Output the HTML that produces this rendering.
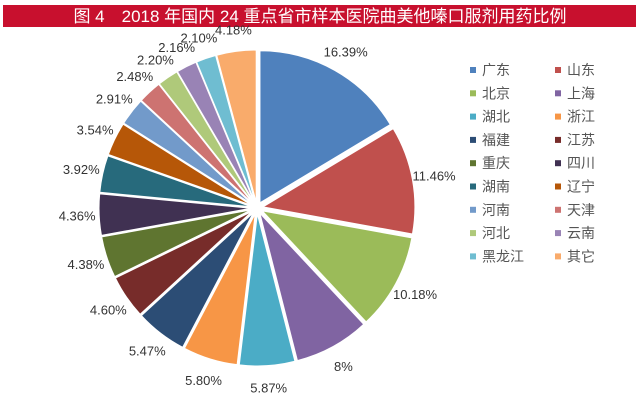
<!DOCTYPE html>
<html><head><meta charset="utf-8"><style>
body{margin:0;background:#fff;}
svg{display:block;font-family:"Liberation Sans","Noto Sans CJK SC",sans-serif;}
</style></head><body>
<svg width="640" height="401" viewBox="0 0 640 401">
<rect x="3" y="5" width="633" height="22" fill="#c8102e"/>
<text x="320" y="22" text-anchor="middle" fill="#fff" font-size="17">图 4　2018 年国内 24 重点省市样本医院曲美他嗪口服剂用药比例</text>
<g id="slices"></g><g id="labels"></g><g id="legend"></g>
</svg>
<script>
const categories=["广东","山东","北京","上海","湖北","浙江","福建","江苏","重庆","四川","湖南","辽宁","河南","天津","河北","云南","黑龙江","其它"];
const values=[16.39,11.46,10.18,8,5.87,5.80,5.47,4.60,4.38,4.36,3.92,3.54,2.91,2.48,2.20,2.16,2.10,4.18];
const valueLabels=["16.39%","11.46%","10.18%","8%","5.87%","5.80%","5.47%","4.60%","4.38%","4.36%","3.92%","3.54%","2.91%","2.48%","2.20%","2.16%","2.10%","4.18%"];
const colors=["#4F81BD","#C0504D","#9BBB59","#8064A2","#4BACC6","#F79646","#2C4D75","#772C2A","#5F7530","#403152","#276A7C","#B65708","#729ACA","#CD7371","#AFC97A","#9983B5","#6FBDD1","#F9AB6B"];
const NS="http://www.w3.org/2000/svg";
const cx=257,cy=208,R=152,EX=6,LR=180;
const total=values.reduce((a,b)=>a+b,0);
function pt(a,r,ox,oy){return [ox+r*Math.sin(a),oy-r*Math.cos(a)];}
let acc=0;
const gS=document.getElementById('slices'),gL=document.getElementById('labels'),gG=document.getElementById('legend');
values.forEach((v,i)=>{
  const a0=acc/total*2*Math.PI;acc+=v;const a1=acc/total*2*Math.PI;const am=(a0+a1)/2;
  const [ox,oy]=pt(am,EX,cx,cy);
  const p0=pt(a0,R,ox,oy),p1=pt(a1,R,ox,oy);
  const large=(a1-a0)>Math.PI?1:0;
  const p=document.createElementNS(NS,'path');
  p.setAttribute('d',`M${ox},${oy}L${p0[0]},${p0[1]}A${R},${R} 0 ${large} 1 ${p1[0]},${p1[1]}Z`);
  p.setAttribute('fill',colors[i]);p.setAttribute('stroke','#fff');p.setAttribute('stroke-width','1');
  
  
  gS.appendChild(p);
  const lp=pt(am,LR,cx,cy);
  const t=document.createElementNS(NS,'text');
  t.setAttribute('x',lp[0]);t.setAttribute('y',lp[1]+5);t.setAttribute('text-anchor','middle');
  t.setAttribute('font-size','13');t.setAttribute('fill','#333');
  t.textContent=valueLabels[i];
  
  
  gL.appendChild(t);
  const col=i%2,row=Math.floor(i/2);
  const x=473+col*85,y=70+row*23.3;
  const g=document.createElementNS(NS,'g');
  
  
  const r=document.createElementNS(NS,'rect');
  r.setAttribute('x',x-3);r.setAttribute('y',y-3);r.setAttribute('width',6);r.setAttribute('height',6);r.setAttribute('fill',colors[i]);
  g.appendChild(r);
  const lt=document.createElementNS(NS,'text');
  lt.setAttribute('x',x+9);lt.setAttribute('y',y+5);lt.setAttribute('font-size','14');lt.setAttribute('fill','#555');
  lt.textContent=categories[i];
  g.appendChild(lt);
  gG.appendChild(g);
});
</script>
</body></html>
